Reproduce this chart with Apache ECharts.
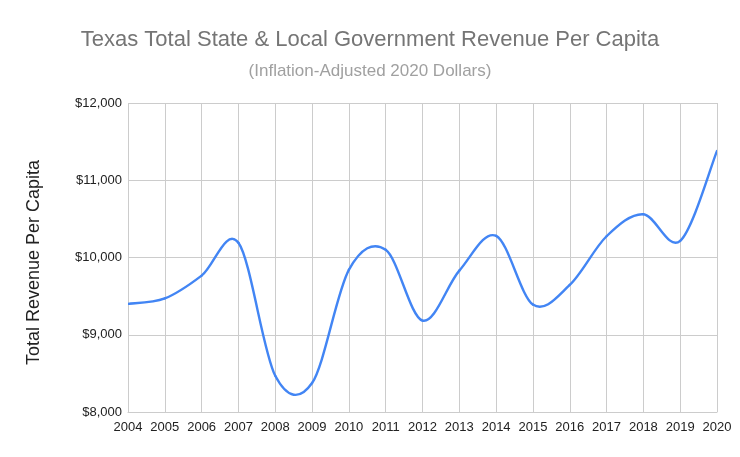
<!DOCTYPE html>
<html>
<head>
<meta charset="utf-8">
<script src="https://cdn.jsdelivr.net/npm/echarts@6/dist/echarts.min.js"></script>
<style>
  html, body { margin: 0; padding: 0; background: #fff; }
  #chart { width: 740px; height: 457px; }
</style>
</head>
<body>
<div id="chart"></div>
<script>
// years on the x axis
const years = [
  "2004", "2005", "2006", "2007", "2008", "2009", "2010", "2011", "2012",
  "2013", "2014", "2015", "2016", "2017", "2018", "2019", "2020",
];

// revenue per capita, inflation-adjusted 2020 dollars
const revenue = [
  9400, 9470, 9765, 10190, 8470, 8375, 9840, 10100, 9183,
  9830, 10280, 9390, 9645, 10275, 10560, 10215, 11380,
];

// y axis ticks
const yMin = 8000;
const yMax = 12000;
const yStep = 1000;

const FONT = "'Liberation Sans', Arial, sans-serif";
const LINE_COLOR = "#4285f4";

const chartDom = document.getElementById("chart");
const myChart = echarts.init(chartDom, null, { renderer: "canvas" });

/**
 * The reference uses a Catmull-Rom style smooth line (peaks can sit between
 * the yearly points). ECharts' own smoothing clamps control points, so each
 * segment is drawn as a bezier here, positioned with api.coord().
 */
function renderSegment(params, api) {
  const i = params.dataIndex;
  const last = revenue.length - 1;
  if (i >= last) return null;

  const pt = (k) => {
    const j = Math.max(0, Math.min(last, k));
    return api.coord([j, revenue[j]]);
  };

  const p0 = pt(i - 1);
  const p1 = pt(i);
  const p2 = pt(i + 1);
  const p3 = pt(i + 2);

  return {
    type: "bezierCurve",
    shape: {
      x1: p1[0],
      y1: p1[1],
      x2: p2[0],
      y2: p2[1],
      cpx1: p1[0] + (p2[0] - p0[0]) / 6,
      cpy1: p1[1] + (p2[1] - p0[1]) / 6,
      cpx2: p2[0] - (p3[0] - p1[0]) / 6,
      cpy2: p2[1] - (p3[1] - p1[1]) / 6,
    },
    style: {
      fill: null,
      stroke: LINE_COLOR,
      lineWidth: 2.4,
      lineCap: "round",
    },
  };
}

const option = {
  animation: false,
  backgroundColor: "#fff",
  title: {
    text: "Texas Total State & Local Government Revenue Per Capita",
    subtext: "(Inflation-Adjusted 2020 Dollars)",
    left: "center",
    top: 24,
    itemGap: 12,
    textStyle: {
      fontFamily: FONT,
      fontSize: 22,
      fontWeight: "normal",
      color: "#757575",
    },
    subtextStyle: {
      fontFamily: FONT,
      fontSize: 17,
      color: "#a0a0a0",
    },
  },
  grid: {
    left: 128,
    right: 23,
    top: 103,
    bottom: 45,
    containLabel: false,
  },
  xAxis: {
    type: "category",
    data: years,
    boundaryGap: false,
    axisLine: { show: true, lineStyle: { color: "#cccccc" } },
    axisTick: { show: false },
    axisLabel: {
      interval: 0,
      color: "#222",
      fontFamily: FONT,
      fontSize: 13,
      margin: 9,
    },
    splitLine: {
      show: true,
      interval: 0,
      lineStyle: { color: "#cccccc", width: 1 },
    },
  },
  yAxis: {
    type: "value",
    min: yMin,
    max: yMax,
    interval: yStep,
    name: "Total Revenue Per Capita",
    nameLocation: "middle",
    nameGap: 85,
    nameTextStyle: {
      fontFamily: FONT,
      fontSize: 18,
      color: "#222",
      padding: [0, 10, 0, 0],
    },
    axisLine: { show: false },
    axisTick: { show: false },
    axisLabel: {
      color: "#222",
      fontFamily: FONT,
      fontSize: 13,
      margin: 6,
      formatter: (v) => "$" + v.toLocaleString("en-US"),
    },
    splitLine: { show: true, lineStyle: { color: "#cccccc", width: 1 } },
  },
  series: [
    {
      type: "custom",
      name: "Total Revenue Per Capita",
      data: revenue.map((v, i) => [i, v]),
      encode: { x: 0, y: 1 },
      renderItem: renderSegment,
      clip: true,
    },
  ],
};

myChart.setOption(option);
</script>
</body>
</html>
